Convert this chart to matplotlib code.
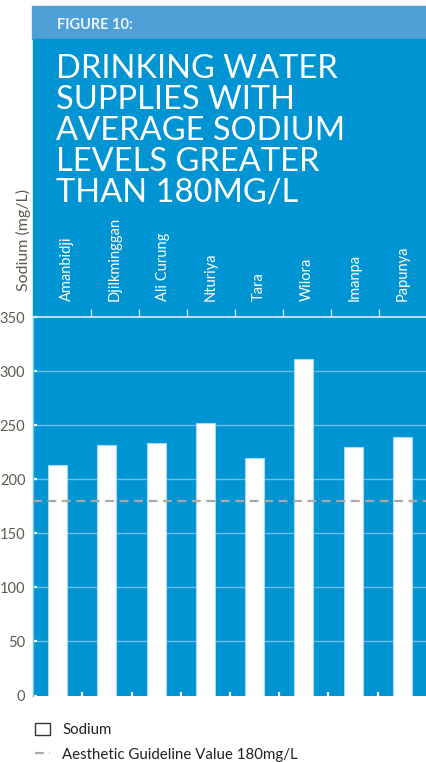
import numpy as np
import matplotlib
matplotlib.use('Agg')
import matplotlib.pyplot as plt
from matplotlib.patches import Rectangle

plt.rcParams['font.family'] = ['Lato', 'DejaVu Sans']

# 지역별 평균 나트륨 농도 (mg/L)
communities = ['Amanbidji', 'Djilkminggan', 'Ali Curung', 'Nturiya',
               'Tara', 'Wilora', 'Imanpa', 'Papunya']
sodium = [213, 232, 234, 252, 220, 311, 230, 239]
guideline = 180
y_ticks = [0, 50, 100, 150, 200, 250, 300, 350]

fig_label = 'FIGURE 10:'
title_lines = ['DRINKING WATER', 'SUPPLIES WITH', 'AVERAGE SODIUM',
               'LEVELS GREATER', 'THAN 180MG/L']

PANEL = '#0094d2'
HEADER = '#4ea0d6'
GRID = '#6cc0ea'
GREYTXT = '#5c5b4c'

W, H = 427, 762
fig = plt.figure(figsize=(W / 100, H / 100), dpi=100)
fig.patch.set_facecolor('white')


def fx(px):
    return px / W


def fy(py):
    return 1 - py / H


# 상단 헤더 띠 + 파란 패널 (축 뒤에 깔리도록 zorder 낮게)
fig.patches.append(Rectangle((fx(32), fy(39)), 1 - fx(32), fy(6) - fy(39),
                             transform=fig.transFigure, color=HEADER, zorder=-2))
fig.patches.append(Rectangle((fx(33), fy(318)), 1 - fx(33), fy(39) - fy(318),
                             transform=fig.transFigure, color=PANEL, zorder=-2))

fig.text(fx(57), fy(25), fig_label, color='#eef5fb', fontsize=10.5,
         fontweight='bold', va='center', ha='left')
for i, line in enumerate(title_lines):
    fig.text(fx(56), fy(78 + 31 * i), line, color='white', fontsize=23.5,
             va='baseline', ha='left')

fig.text(fx(23), fy(240), 'Sodium (mg/L)', rotation=90, color=GREYTXT,
         fontsize=11.5, ha='center', va='center')

# 막대 그래프
ax = fig.add_axes([fx(33), fy(695.5), 1 - fx(33), fy(317.3) - fy(695.5)])
ax.set_facecolor(PANEL)
x = np.arange(len(communities))
bars = ax.bar(x, sodium, width=0.39, color='white', edgecolor='#a6dcf4',
              linewidth=0.8, zorder=3, label='Sodium')
guide = ax.axhline(guideline, color='#a8a8a8', lw=1.6, ls=(0, (4, 2.5)),
                   zorder=4, label='Aesthetic Guideline Value 180mg/L')

for v in y_ticks[1:-1]:
    ax.axhline(v, color=GRID, lw=1, zorder=1)

ax.set_xlim(-0.5, len(communities) - 0.5)
ax.set_ylim(0, 350)
ax.set_yticks(y_ticks)
ax.set_yticklabels([str(v) for v in y_ticks])
ax.tick_params(axis='y', direction='in', length=3, width=1.6, color='white',
               labelcolor=GREYTXT, labelsize=10.5, pad=5.5)
ax.set_xticks(np.arange(0.5, len(communities) - 1, 1))
ax.set_xticklabels([])
ax.tick_params(axis='x', direction='in', length=3, width=1.6, color='white')

for s in ['right', 'bottom']:
    ax.spines[s].set_visible(False)
ax.spines['left'].set_color(GRID)
ax.spines['left'].set_linewidth(1)
ax.spines['top'].set_color('#d8eff9')
ax.spines['top'].set_linewidth(1.2)

# 위쪽 지역 이름
ax2 = ax.twiny()
ax2.set_xlim(-0.70, 7.5)
ax2.set_xticks(x)
ax2.set_xticklabels(communities)
ax2.set_xticks(np.arange(0.5, len(communities) - 1, 1), minor=True)
ax2.tick_params(axis='x', which='major', length=0, pad=12, labelsize=10.5,
                labelcolor='white', labelrotation=90)
ax2.tick_params(axis='x', which='minor', length=5.5, width=1,
                color='#cfeaf8', direction='out')
for s in ax2.spines.values():
    s.set_visible(False)

# 범례
leg = ax.legend(handles=[bars, guide], loc='upper left',
                bbox_to_anchor=(fx(21), fy(709)), bbox_transform=fig.transFigure,
                frameon=False, fontsize=10.8, handlelength=1.05,
                handleheight=0.95, handletextpad=0.8, labelspacing=0.7,
                labelcolor='#222222')
leg.legend_handles[0].set_edgecolor('#333333')
leg.legend_handles[0].set_linewidth(1)

fig.savefig('out.png', dpi=100, facecolor='white')
